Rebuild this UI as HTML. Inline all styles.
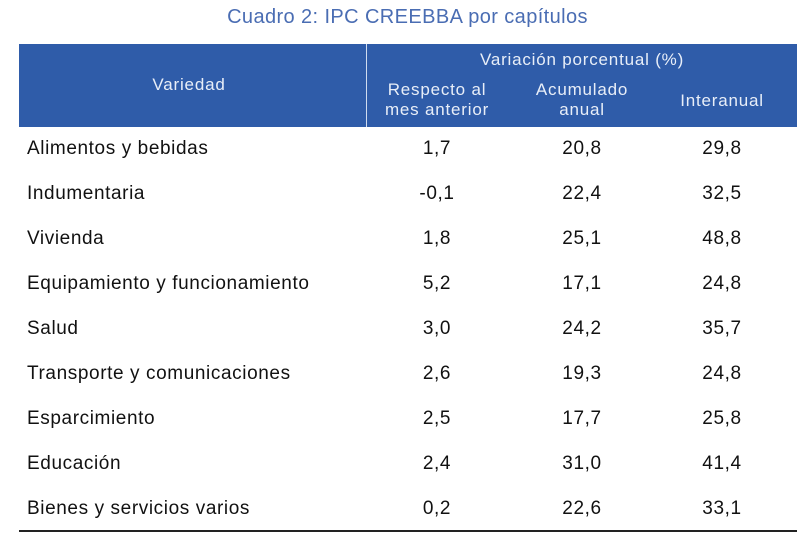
<!DOCTYPE html>
<html><head><meta charset="utf-8"><style>
body{margin:0;width:800px;height:537px;background:#fff;font-family:"Liberation Sans",sans-serif;position:relative;overflow:hidden}
.t{position:absolute;white-space:nowrap}
.title{left:0;width:815px;text-align:center;top:6px;font-size:20px;color:#4a6db3;letter-spacing:0.4px}
.hdr{position:absolute;left:19px;top:44px;width:778px;height:83px;background:#2f5ca9}
.div{position:absolute;left:366px;top:44px;width:1px;height:83px;background:#d0dcf0}
.h{color:#e8eef8;font-size:17px;text-align:center;line-height:20px;letter-spacing:0.8px}
.r{font-size:19px;color:#111;top:0;letter-spacing:0.6px}
.c{text-align:center;width:100px}
.line{position:absolute;left:19px;width:778px;top:530px;height:2px;background:#222}
</style></head><body>
<div class="t title">Cuadro 2: IPC CREEBBA por capítulos</div>
<div class="hdr"></div><div class="div"></div>
<div class="t h" style="left:19px;width:340px;top:75px">Variedad</div>
<div class="t h" style="left:367px;width:430px;top:50px">Variación porcentual (%)</div>
<div class="t h" style="left:377px;width:120px;top:80px">Respecto al<br>mes anterior</div>
<div class="t h" style="left:522px;width:120px;top:80px">Acumulado<br>anual</div>
<div class="t h" style="left:662px;width:120px;top:91px">Interanual</div>
<div id="rows"></div>
<div class="line"></div>
<script>
var d=[["Alimentos y bebidas","1,7","20,8","29,8"],["Indumentaria","-0,1","22,4","32,5"],["Vivienda","1,8","25,1","48,8"],["Equipamiento y funcionamiento","5,2","17,1","24,8"],["Salud","3,0","24,2","35,7"],["Transporte y comunicaciones","2,6","19,3","24,8"],["Esparcimiento","2,5","17,7","25,8"],["Educación","2,4","31,0","41,4"],["Bienes y servicios varios","0,2","22,6","33,1"]];
var h="";d.forEach(function(r,i){var y=138+i*45;
h+='<div class="t r" style="left:27px;top:'+y+'px">'+r[0]+'</div>';
[437,582,722].forEach(function(x,j){h+='<div class="t r c" style="left:'+(x-50)+'px;top:'+y+'px">'+r[j+1]+'</div>';});});
document.getElementById("rows").innerHTML=h;
</script>
</body></html>
